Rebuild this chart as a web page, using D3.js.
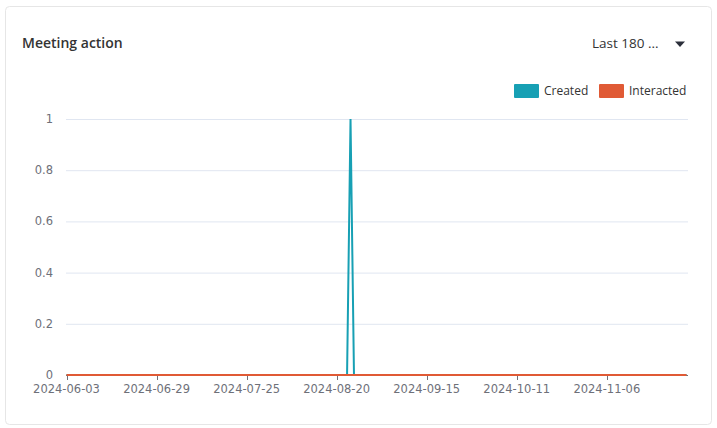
<!DOCTYPE html>
<html><head><meta charset="utf-8">
<script src="https://cdn.jsdelivr.net/npm/d3@7/dist/d3.min.js"></script>
<style>
html,body{margin:0;padding:0;background:#fff;}
svg{display:block;font-family:"Open Sans","Noto Sans",sans-serif;}
</style></head>
<body>
<svg id="c" width="717" height="428"></svg>
<script>
const startDate = "2024-06-03";
const dayCount = 180;
const createdSpikes = [{date: "2024-08-24", value: 1}];
const interactedSpikes = [];
const yTicks = [0, 0.2, 0.4, 0.6, 0.8, 1];
const xLabelEvery = 26;
const seriesNames = ["Created", "Interacted"];
const seriesColors = ["#17a0b4", "#e05a35"];
const title = "Meeting action";
const rangeLabel = "Last 180 ...";

const parse = d3.utcParse("%Y-%m-%d");
const fmt = d3.utcFormat("%Y-%m-%d");
const dates = d3.utcDay.range(parse(startDate), d3.utcDay.offset(parse(startDate), dayCount)).map(fmt);
function buildSeries(spikes){
  const m = new Map(spikes.map(s => [s.date, s.value]));
  return dates.map(d => ({date: d, value: m.has(d) ? m.get(d) : 0}));
}
const created = buildSeries(createdSpikes);
const interacted = buildSeries(interactedSpikes);

const axisFont = "'DejaVu Sans',sans-serif";
const svg = d3.select("#c");
svg.append("rect").attr("x",5.5).attr("y",6.5).attr("width",706).attr("height",418).attr("rx",4)
  .attr("fill","#fff").attr("stroke","#e6e6e6");

svg.append("text").attr("x",22).attr("y",48).attr("font-size",14).attr("font-weight",600)
  .attr("fill","#333").text(title);
svg.append("text").attr("x",592).attr("y",48).attr("font-size",13.5).attr("fill","#333").text(rangeLabel);
svg.append("path").attr("d","M675,41.5L685,41.5L680,47Z").attr("fill","#2b2f3a");

const x = d3.scalePoint().domain(dates).range([66.5, 686.5]);
const y = d3.scaleLinear().domain([0,1]).range([375, 119]);

// grid
svg.append("g").selectAll("line").data(yTicks.filter(t=>t>0)).join("line")
  .attr("x1",66).attr("x2",688).attr("y1",d=>y(d)+0.5).attr("y2",d=>y(d)+0.5)
  .attr("stroke","#e0e6f1");
// y labels
svg.append("g").selectAll("text").data(yTicks).join("text")
  .attr("x",53).attr("y",d=>y(d)+4).attr("text-anchor","end").attr("font-size",11.5)
  .attr("fill","#6e7079").attr("font-family",axisFont)
  .text(d=>d3.format("")(d));

// x axis
const xa = svg.append("g");
xa.append("line").attr("x1",66).attr("x2",688).attr("y1",375.5).attr("y2",375.5).attr("stroke","#6e7079");
const labelDates = dates.filter((d,i)=>i%xLabelEvery===0);
xa.selectAll("line.t").data(labelDates).join("line").attr("class","t")
  .attr("x1",d=>Math.round(x(d))+0.5).attr("x2",d=>Math.round(x(d))+0.5).attr("y1",375).attr("y2",380)
  .attr("stroke","#6e7079");
xa.selectAll("text").data(labelDates).join("text")
  .attr("x",d=>x(d)).attr("y",393).attr("text-anchor","middle").attr("font-size",11.5)
  .attr("fill","#6e7079").attr("font-family",axisFont).text(d=>d);

const line = d3.line().x(d=>x(d.date)).y(d=>y(d.value));
svg.append("path").datum(created).attr("d",line).attr("fill","none")
  .attr("stroke",seriesColors[0]).attr("stroke-width",2).attr("stroke-linejoin","bevel");
svg.append("path").datum(interacted).attr("d",line).attr("fill","none")
  .attr("stroke",seriesColors[1]).attr("stroke-width",2).attr("stroke-linejoin","bevel");

// legend
const lg = svg.append("g");
const legendX = [514, 599];
seriesNames.forEach((n,i)=>{
  lg.append("rect").attr("x",legendX[i]).attr("y",84).attr("width",25).attr("height",14).attr("rx",1).attr("fill",seriesColors[i]);
  lg.append("text").attr("x",legendX[i]+30).attr("y",95).attr("font-size",12).attr("fill","#333")
    .attr("font-family","'Open Sans',sans-serif").text(n);
});
</script>
</body></html>
